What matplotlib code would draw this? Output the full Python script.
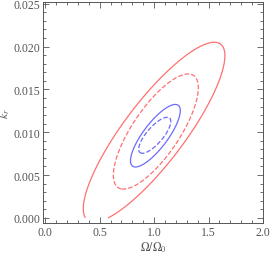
import numpy as np
import matplotlib
matplotlib.use("Agg")
import matplotlib.pyplot as plt
from matplotlib.ticker import MultipleLocator

# confidence contours: centre, half-widths at the contour, correlation
contour_names = ['red 2sigma', 'red 1sigma', 'blue 2sigma', 'blue 1sigma']
center_x = [1.000, 1.016, 1.012, 1.006]
center_y = [0.01000, 0.01008, 0.00959, 0.00964]
width_x = [0.650, 0.390, 0.2285, 0.1474]
width_y = [0.01050, 0.00672, 0.00365, 0.00210]
rho = [0.85, 0.76, 0.80, 0.77]
colors = ['#ff7070', '#ff7070', '#6b6bff', '#6b6bff']
styles = ['-', '--', '-', '--']

x_ticks = [0.0, 0.5, 1.0, 1.5, 2.0]
y_ticks = [0.000, 0.005, 0.010, 0.015, 0.020, 0.025]

plt.rcParams['font.family'] = ['Liberation Serif', 'DejaVu Serif']
plt.rcParams['mathtext.fontset'] = 'stix'
gray = '#555555'

fig = plt.figure(figsize=(2.70, 2.55), dpi=100)
ax = fig.add_axes([43 / 270, 31 / 255, 220 / 270, 221 / 255])

# k_r is only evaluated from 0 upwards, so the outer contour is cut at k_r = 0
xx, yy = np.meshgrid(np.linspace(-0.1, 2.1, 700), np.linspace(0.0, 0.03, 700))

for i in range(len(contour_names)):
    dx = (xx - center_x[i]) / width_x[i]
    dy = (yy - center_y[i]) / width_y[i]
    q = (dx ** 2 - 2 * rho[i] * dx * dy + dy ** 2) / (1 - rho[i] ** 2)
    ax.contour(xx, yy, q, levels=[1.0], colors=colors[i],
               linestyles=styles[i], linewidths=0.9)

ax.set_xlim(-0.02, 2.0)
ax.set_ylim(-0.0006, 0.0252)
ax.set_xticks(x_ticks)
ax.set_yticks(y_ticks)
ax.set_xticklabels([f"{v:.1f}" for v in x_ticks])
ax.set_yticklabels([f"{v:.3f}" for v in y_ticks])
ax.xaxis.set_minor_locator(MultipleLocator(0.1))
ax.yaxis.set_minor_locator(MultipleLocator(0.001))
ax.tick_params(which='both', direction='in', top=True, right=True, colors=gray,
               labelsize=8.5, width=0.6, pad=2)
ax.tick_params(which='major', length=4)
ax.tick_params(which='minor', length=2)
for s in ax.spines.values():
    s.set_color(gray)
    s.set_linewidth(0.7)
ax.set_xlabel(r'$\Omega/\Omega_0$', color=gray, fontsize=8.5, labelpad=1)
ax.set_ylabel(r'$k_r$', color=gray, fontsize=8.5, labelpad=1)

fig.savefig('out.png', dpi=100)
